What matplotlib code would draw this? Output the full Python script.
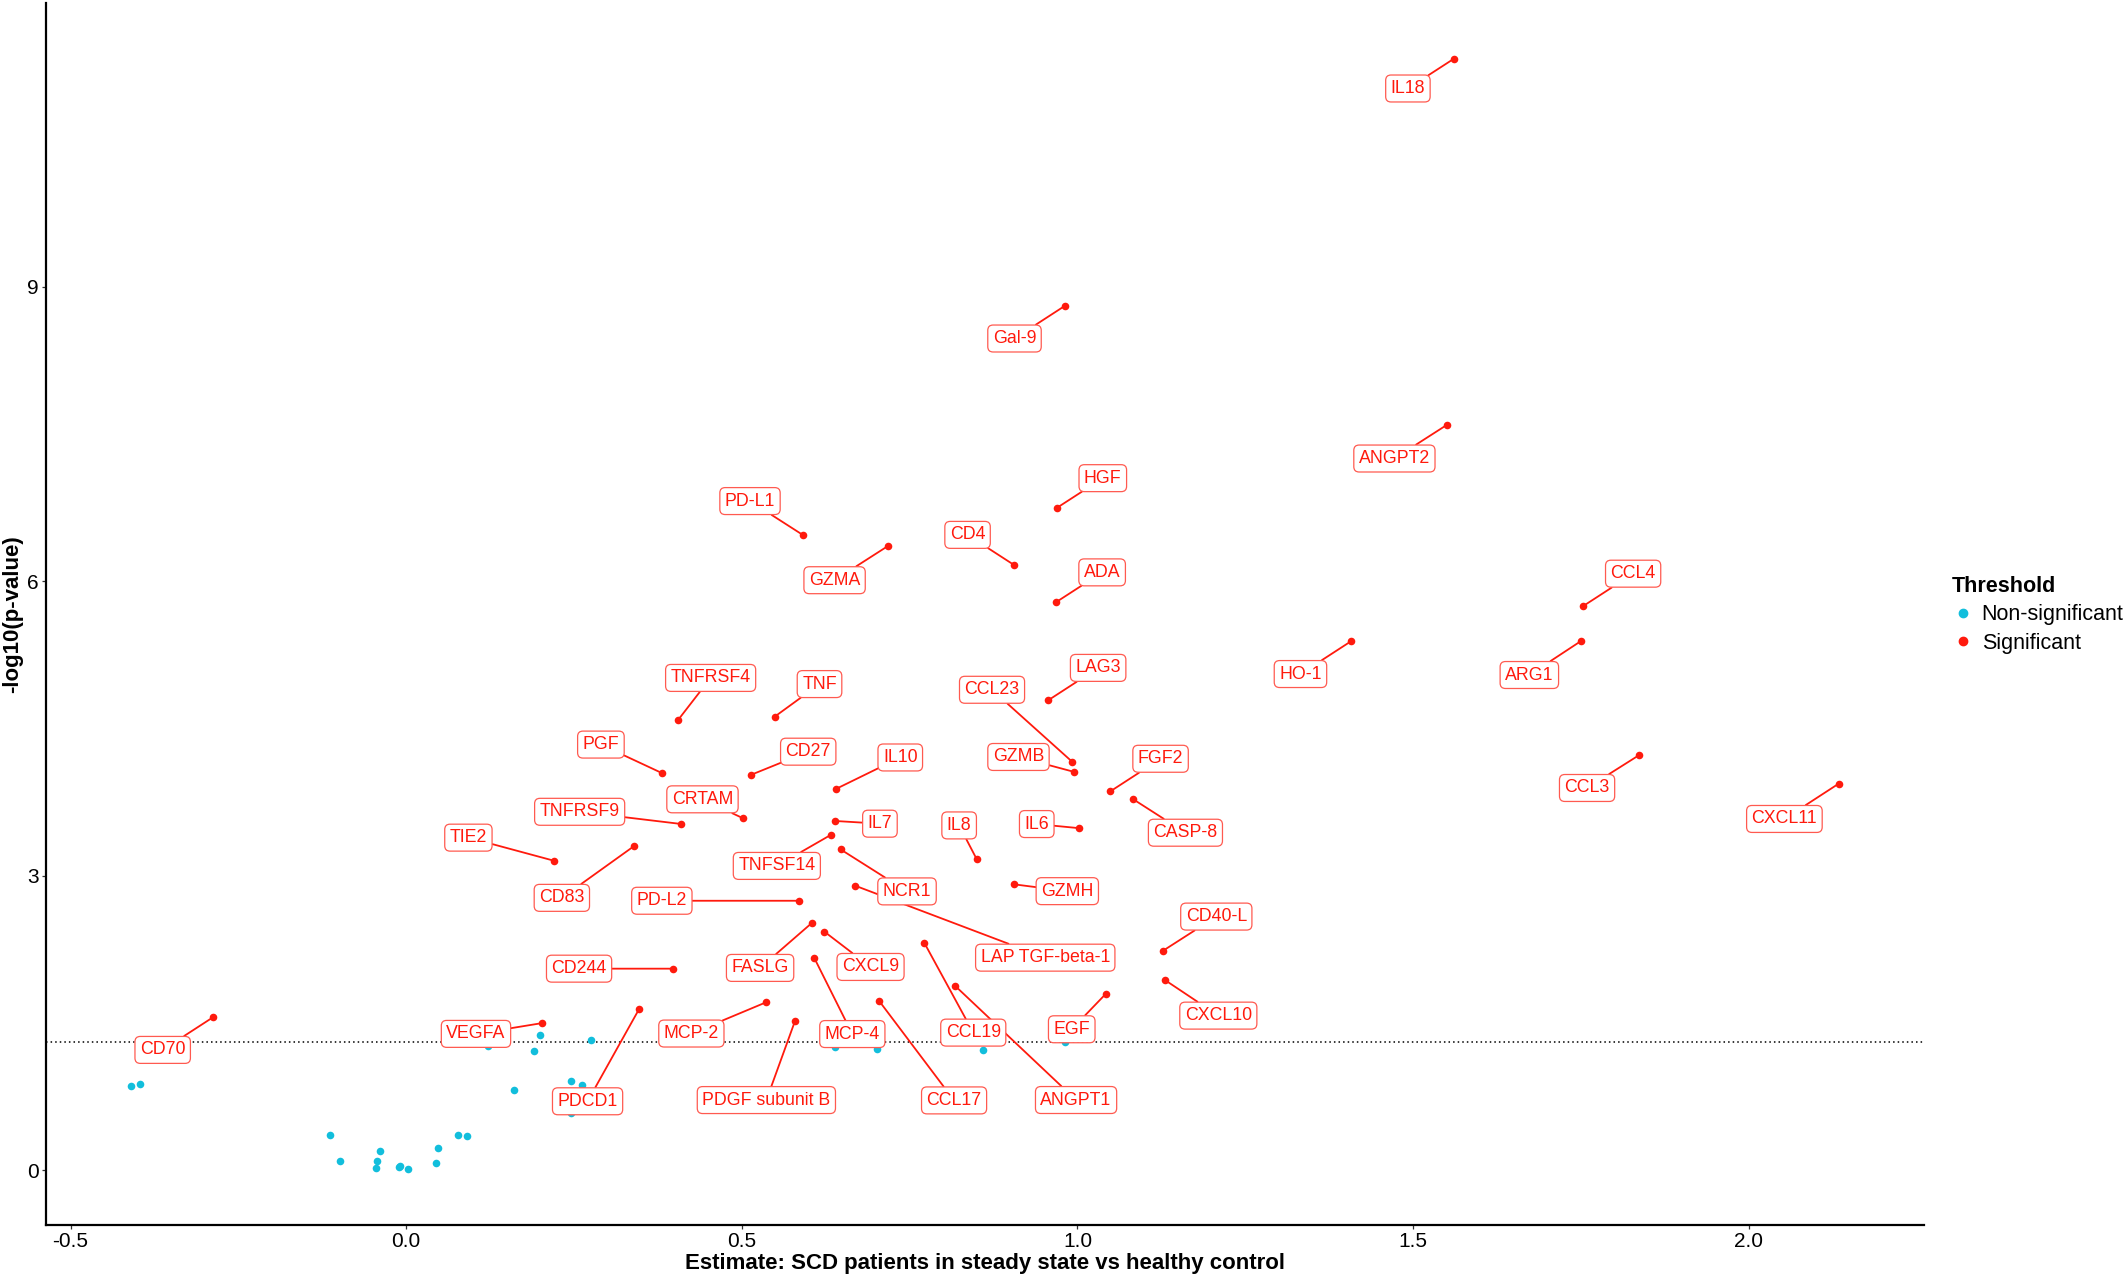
import matplotlib
matplotlib.use("Agg")
import matplotlib.pyplot as plt
from matplotlib.lines import Line2D

plt.rcParams.update({"font.family": ["Liberation Sans", "DejaVu Sans"], "font.size": 14})

C_SIG = "#FF1A0D"
C_NS = "#12BEDC"

# significant proteins (estimate, -log10 p)
sig_names = ["IL18", "Gal-9", "ANGPT2", "HGF", "PD-L1", "GZMA", "CD4", "ADA", "CCL4", "HO-1",
             "ARG1", "LAG3", "CCL23", "GZMB", "FGF2", "CASP-8", "IL6", "IL8", "GZMH", "CD40-L",
             "CXCL10", "EGF", "CCL3", "CXCL11", "LAP TGF-beta-1", "CCL17", "ANGPT1", "CCL19",
             "TNFRSF4", "TNF", "PGF", "CD27", "IL10", "CRTAM", "TNFRSF9", "IL7", "TIE2", "CD83",
             "TNFSF14", "NCR1", "PD-L2", "FASLG", "CXCL9", "CD244", "MCP-4", "MCP-2", "VEGFA",
             "CD70", "PDCD1", "PDGF subunit B"]
sig_est = [1.561, 0.981, 1.551, 0.969, 0.591, 0.717, 0.905, 0.968, 1.753, 1.407,
           1.750, 0.956, 0.992, 0.995, 1.049, 1.082, 1.002, 0.850, 0.906, 1.128,
           1.131, 1.042, 1.836, 2.134, 0.669, 0.705, 0.818, 0.772,
           0.405, 0.549, 0.381, 0.514, 0.641, 0.502, 0.410, 0.639, 0.220, 0.339,
           0.633, 0.647, 0.585, 0.604, 0.623, 0.397, 0.608, 0.536, 0.203,
           -0.288, 0.347, 0.579]
sig_logp = [11.325, 8.805, 7.596, 6.746, 6.471, 6.356, 6.168, 5.786, 5.745, 5.386,
            5.390, 4.785, 4.161, 4.057, 3.859, 3.783, 3.484, 3.166, 2.911, 2.237,
            1.933, 1.794, 4.225, 3.937, 2.897, 1.719, 1.875, 2.313,
            4.586, 4.620, 4.045, 4.028, 3.886, 3.584, 3.526, 3.557, 3.152, 3.299,
            3.417, 3.268, 2.744, 2.516, 2.429, 2.052, 2.160, 1.709, 1.498,
            1.556, 1.641, 1.515]

# non-significant proteins
ns_est = [-0.410, -0.396, -0.113, -0.099, -0.039, -0.044, -0.045, -0.011, -0.009, 0.002,
          0.044, 0.048, 0.077, 0.091, 0.122, 0.161, 0.191, 0.199, 0.245, 0.262,
          0.245, 0.275, 0.381, 0.639, 0.701, 0.859, 0.982]
ns_logp = [0.856, 0.880, 0.360, 0.088, 0.197, 0.092, 0.024, 0.027, 0.044, 0.010,
           0.068, 0.228, 0.353, 0.350, 1.267, 0.812, 1.216, 1.372, 0.904, 0.863,
           0.581, 1.325, 1.474, 1.250, 1.236, 1.223, 1.300]

threshold = 1.301  # -log10(0.05)

# label offsets from point (right, up), in px of the reference at 1568 wide
label_off = {
    "IL18": (-34, -22), "Gal-9": (-37, -24), "ANGPT2": (-39, -25), "HGF": (34, 22),
    "PD-L1": (-39, 25), "GZMA": (-39, -25), "CD4": (-34, 22), "ADA": (34, 22),
    "CCL4": (37, 24), "HO-1": (-37, -24), "ARG1": (-38, -25), "LAG3": (37, 24),
    "CCL23": (-59, 53), "GZMB": (-41, 11), "FGF2": (37, 24), "CASP-8": (39, -25),
    "IL6": (-31, 3), "IL8": (-13, 25), "GZMH": (39, -5), "CD40-L": (39, 25),
    "CXCL10": (39, -26), "EGF": (-25, -26), "CCL3": (-38, -24), "CXCL11": (-40, -26),
    "LAP TGF-beta-1": (140, -53), "CCL17": (55, -73), "ANGPT1": (89, -84), "CCL19": (36, -66),
    "TNFRSF4": (24, 31), "TNF": (33, 24), "PGF": (-45, 21), "CD27": (42, 17),
    "IL10": (47, 23), "CRTAM": (-30, 14), "TNFRSF9": (-75, 9), "IL7": (33, -2),
    "TIE2": (-63, 17), "CD83": (-53, -38), "TNFSF14": (-40, -23), "NCR1": (49, -31),
    "PD-L2": (-101, 0), "FASLG": (-38, -33), "CXCL9": (34, -26), "CD244": (-69, 0),
    "MCP-4": (28, -56), "MCP-2": (-55, -23), "VEGFA": (-49, -8), "CD70": (-37, -24),
    "PDCD1": (-38, -68), "PDGF subunit B": (-21, -58),
}
OFF_SCALE = 0.977  # reference px -> points

fig = plt.figure(figsize=(21.28, 12.78), dpi=100)
ax = fig.add_axes([0.0215, 0.0417, 0.8826, 0.9558])

ax.scatter(ns_est, ns_logp, s=30, color=C_NS, linewidths=0, zorder=2)
ax.scatter(sig_est, sig_logp, s=30, color=C_SIG, linewidths=0, zorder=2)
ax.axhline(threshold, color="black", ls=(0, (1, 2)), lw=1.1, zorder=1)

for n, x, y in zip(sig_names, sig_est, sig_logp):
    dx, dy = label_off[n]
    ax.annotate(n, xy=(x, y), xytext=(dx * OFF_SCALE, dy * OFF_SCALE), textcoords="offset points",
                ha="center", va="center", fontsize=12.8, color=C_SIG, zorder=4,
                bbox=dict(boxstyle="round,pad=0.28,rounding_size=0.3", fc="white", ec="#FF5A50", lw=0.9),
                arrowprops=dict(arrowstyle="-", color=C_SIG, lw=1.3, shrinkA=0, shrinkB=0))

ax.set_xlim(-0.537, 2.261)
ax.set_ylim(-0.557, 11.89)
ax.set_xticks([-0.5, 0.0, 0.5, 1.0, 1.5, 2.0])
ax.set_xticklabels(["-0.5", "0.0", "0.5", "1.0", "1.5", "2.0"])
ax.set_yticks([0, 3, 6, 9])
for s in ["top", "right"]:
    ax.spines[s].set_visible(False)
for s in ["left", "bottom"]:
    ax.spines[s].set_linewidth(1.6)
ax.tick_params(length=3, width=0.9, color="#333333", labelsize=15, labelcolor="black", pad=2)
ax.set_xlabel("Estimate: SCD patients in steady state vs healthy control", fontsize=16,
              fontweight="bold", labelpad=2)
ax.set_ylabel("-log10(p-value)", fontsize=16, fontweight="bold", labelpad=3)

handles = [Line2D([], [], ls="", marker="o", ms=6, color=C_NS),
           Line2D([], [], ls="", marker="o", ms=6, color=C_SIG)]
leg = fig.legend(handles, ["Non-significant", "Significant"], title="Threshold",
                 loc="upper left", bbox_to_anchor=(0.912, 0.558), frameon=False,
                 fontsize=15.5, title_fontproperties={"weight": "bold", "size": 15.5},
                 handletextpad=0.3, labelspacing=0.35, borderpad=0, handlelength=1.1)
leg._legend_box.align = "left"

fig.savefig("out.png", dpi=100, facecolor="white")
